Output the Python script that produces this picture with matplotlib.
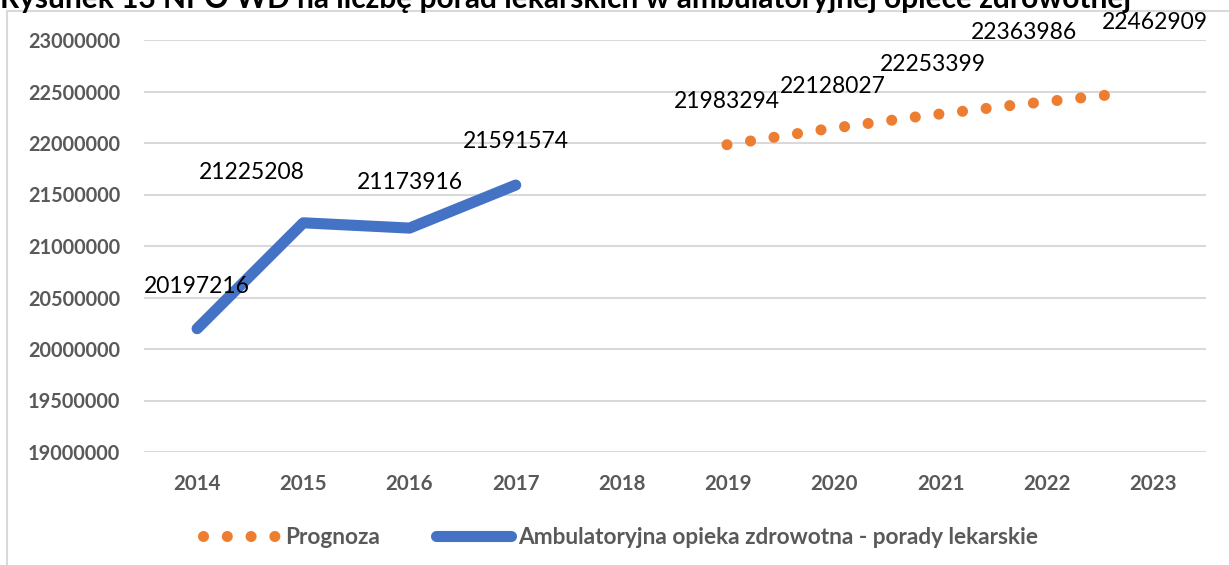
import matplotlib.pyplot as plt
from matplotlib.patches import Rectangle
from matplotlib.ticker import FuncFormatter

plt.rcParams['font.family'] = ['Lato', 'DejaVu Sans']

# actual values (category axis)
years = ['2014', '2015', '2016', '2017', '2018', '2019', '2020', '2021', '2022', '2023']
actual_years = [2014, 2015, 2016, 2017]
actual = [20197216, 21225208, 21173916, 21591574]

# forecast values
forecast_years = [2019, 2020, 2021, 2022, 2023]
forecast = [21983294, 22128027, 22253399, 22363986, 22462909]

# label offsets in pixels (labels were moved by hand in the original)
actual_offsets = [(0, 32), (-51, 40), (0, 35), (0, 33)]
forecast_offsets = [(0, 33), (11, 33), (17, 42), (13, 63), (50, 62)]

blue = '#4472C4'
orange = '#ED7D31'
grey = '#595959'

fig = plt.figure(figsize=(12.29, 5.65), dpi=100)
ax = fig.add_axes([144 / 1229, 1 - 452 / 565, 1062 / 1229, 412 / 565])

x_actual = [years.index(str(y)) for y in actual_years]
line_a, = ax.plot(x_actual, actual, color=blue, lw=8, solid_capstyle='round',
                  solid_joinstyle='round', label='Ambulatoryjna opieka zdrowotna - porady lekarskie')
for x, v, off in zip(x_actual, actual, actual_offsets):
    ax.annotate(str(v), (x, v), xytext=off, textcoords='offset pixels',
                ha='center', va='bottom', fontsize=16.5, color='black')

ax.set_xlim(-0.5, len(years) - 0.5)
ax.set_ylim(19000000, 23000000)
ax.set_yticks(range(19000000, 23000001, 500000))
ax.yaxis.set_major_formatter(FuncFormatter(lambda v, p: f'{v:.0f}'))
ax.set_xticks(range(len(years)))
ax.set_xticklabels(years)
ax.grid(axis='y', color='#D9D9D9', lw=1.5)
ax.set_axisbelow(True)
for s in ax.spines.values():
    s.set_visible(False)
ax.tick_params(length=0, labelcolor=grey, labelsize=14.3)
ax.tick_params(axis='y', pad=17)
ax.tick_params(axis='x', labelsize=14.8, pad=16)
for t in ax.get_xticklabels() + ax.get_yticklabels():
    t.set_fontweight('bold')

# forecast sits on its own (secondary) horizontal axis
ax2 = ax.twiny()
x0 = 2019 - 583 / 94.5
ax2.set_xlim(x0, x0 + 1062 / 94.5)
ax2.set_ylim(ax.get_ylim())
ax2.axis('off')
line_f, = ax2.plot(forecast_years, forecast, color=orange, lw=8,
                   linestyle=(0, (0.001, 2.14)), dash_capstyle='round', label='Prognoza')
for x, v, off in zip(forecast_years, forecast, forecast_offsets):
    ax2.annotate(str(v), (x, v), xytext=off, textcoords='offset pixels',
                 ha='center', va='bottom', fontsize=16.5, color='black')

leg = fig.legend(handles=[line_f, line_a], loc='center', bbox_to_anchor=(0.505, 1 - 537 / 565),
                 ncol=2, frameon=False, handlelength=3.3, handletextpad=0.3, columnspacing=2.5,
                 prop={'weight': 'bold', 'size': 16.3})
for t in leg.get_texts():
    t.set_color(grey)

# chart frame (partly cut off in the original)
fig.add_artist(Rectangle((7 / 1229, -0.1), 2, 1.1 - 11 / 565, transform=fig.transFigure,
                         fill=False, edgecolor='#D9D9D9', lw=1.5))

fig.text(0.0, 1 - 8 / 565, 'Rysunek 13 NPO WD na liczbę porad lekarskich w ambulatoryjnej opiece zdrowotnej',
         fontsize=21.5, fontweight='bold', color='black', va='baseline', ha='left')

fig.savefig('out.png', dpi=100)
